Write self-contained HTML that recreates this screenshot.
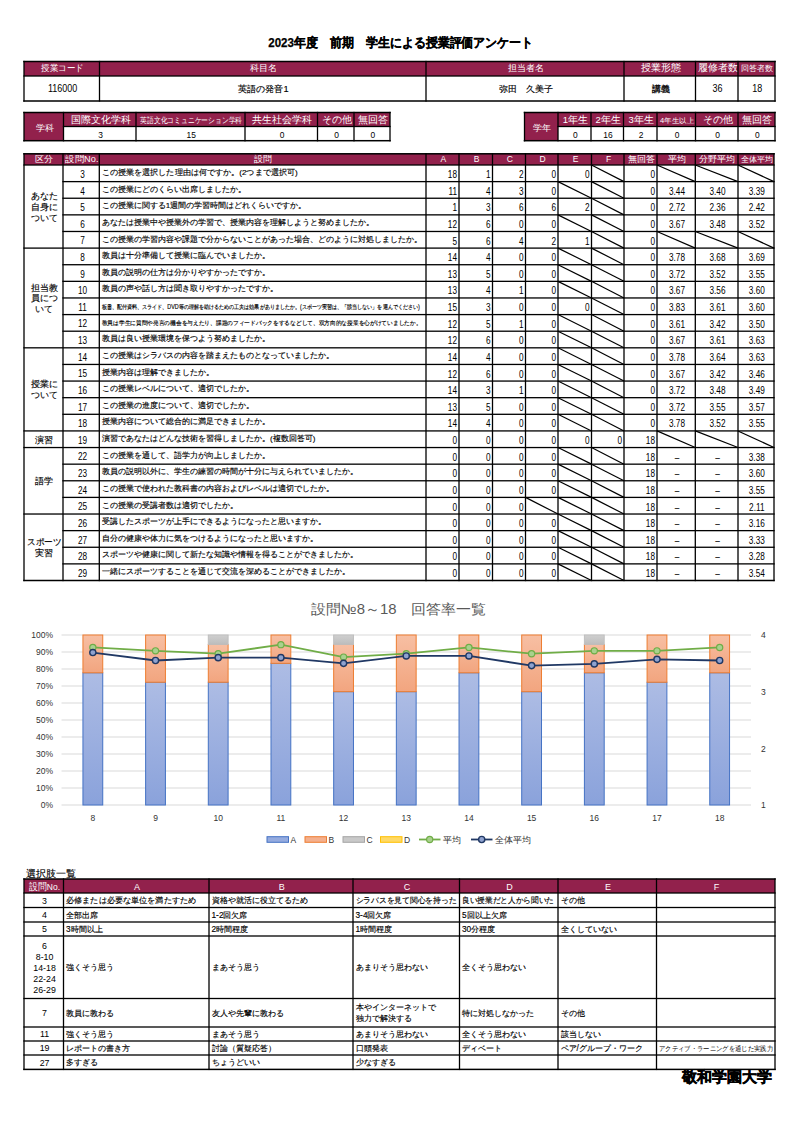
<!DOCTYPE html>
<html><head><meta charset="utf-8"><title>授業評価アンケート</title>
<style>
html,body{margin:0;padding:0;background:#fff;}
svg{display:block;font-family:"Liberation Sans",sans-serif;}
</style></head><body>
<svg width="800" height="1131" viewBox="0 0 800 1131">
<rect x="0" y="0" width="800" height="1131" fill="#fff"/>
<text x="400.80" y="47.30" font-size="12.5" text-anchor="middle" fill="#000" font-weight="bold" textLength="265.0" lengthAdjust="spacingAndGlyphs" stroke="#000" stroke-width="0.25">2023年度　前期　学生による授業評価アンケート</text>
<rect x="24.00" y="61.50" width="751.00" height="14.50" fill="#92214C" />
<text x="62.55" y="70.80" font-size="9.3" text-anchor="middle" fill="#fff" font-weight="normal" textLength="42.5" lengthAdjust="spacingAndGlyphs" >授業コード</text>
<text x="263.55" y="70.80" font-size="9.3" text-anchor="middle" fill="#fff" font-weight="normal" >科目名</text>
<text x="525.80" y="70.80" font-size="9.3" text-anchor="middle" fill="#fff" font-weight="normal" >担当者名</text>
<text x="660.55" y="70.80" font-size="9.5" text-anchor="middle" fill="#fff" font-weight="normal" >授業形態</text>
<text x="717.55" y="70.80" font-size="9.7" text-anchor="middle" fill="#fff" font-weight="normal" >履修者数</text>
<text x="757.30" y="70.80" font-size="8.1" text-anchor="middle" fill="#fff" font-weight="normal" >回答者数</text>
<text transform="translate(62.55,92.20) scale(0.88,1)" font-size="10.2" text-anchor="middle" fill="#000">116000</text>
<text x="263.55" y="92.00" font-size="9.2" text-anchor="middle" fill="#000" font-weight="normal" stroke="#000" stroke-width="0.15">英語の発音1</text>
<text x="525.80" y="92.00" font-size="9.2" text-anchor="middle" fill="#000" font-weight="normal" stroke="#000" stroke-width="0.15">弥田　久美子</text>
<text x="660.55" y="92.00" font-size="9.2" text-anchor="middle" fill="#000" font-weight="normal" stroke="#000" stroke-width="0.3">講義</text>
<text transform="translate(717.55,92.20) scale(0.88,1)" font-size="10.2" text-anchor="middle" fill="#000">36</text>
<text transform="translate(757.30,92.20) scale(0.88,1)" font-size="10.2" text-anchor="middle" fill="#000">18</text>
<rect x="23.25" y="60.75" width="752.50" height="1.5" fill="#000"/>
<rect x="23.35" y="75.35" width="752.30" height="1.3" fill="#000"/>
<rect x="23.25" y="100.25" width="752.50" height="1.5" fill="#000"/>
<rect x="23.35" y="60.85" width="1.3" height="40.80" fill="#000"/>
<rect x="98.85" y="60.85" width="1.3" height="40.80" fill="#000"/>
<rect x="425.35" y="60.85" width="1.3" height="40.80" fill="#000"/>
<rect x="623.35" y="60.85" width="1.3" height="40.80" fill="#000"/>
<rect x="694.85" y="60.85" width="1.3" height="40.80" fill="#000"/>
<rect x="737.35" y="60.85" width="1.3" height="40.80" fill="#000"/>
<rect x="774.35" y="60.85" width="1.3" height="40.80" fill="#000"/>
<rect x="24.00" y="112.50" width="366.00" height="14.00" fill="#92214C" />
<rect x="24.00" y="112.50" width="39.50" height="28.20" fill="#92214C" />
<text x="44.55" y="130.50" font-size="9" text-anchor="middle" fill="#fff" font-weight="normal" >学科</text>
<text x="100.55" y="122.50" font-size="9.5" text-anchor="middle" fill="#fff" font-weight="normal" >国際文化学科</text>
<text x="191.30" y="123.10" font-size="8" text-anchor="middle" fill="#fff" font-weight="normal" textLength="102.0" lengthAdjust="spacingAndGlyphs" >英語文化コミュニケーション学科</text>
<text x="282.05" y="122.50" font-size="9.5" text-anchor="middle" fill="#fff" font-weight="normal" >共生社会学科</text>
<text x="336.55" y="122.50" font-size="9.5" text-anchor="middle" fill="#fff" font-weight="normal" >その他</text>
<text x="372.80" y="122.50" font-size="9.5" text-anchor="middle" fill="#fff" font-weight="normal" >無回答</text>
<text transform="translate(100.55,138.00) scale(0.86,1)" font-size="9.8" text-anchor="middle" fill="#000">3</text>
<text transform="translate(191.30,138.00) scale(0.86,1)" font-size="9.8" text-anchor="middle" fill="#000">15</text>
<text transform="translate(282.05,138.00) scale(0.86,1)" font-size="9.8" text-anchor="middle" fill="#000">0</text>
<text transform="translate(336.55,138.00) scale(0.86,1)" font-size="9.8" text-anchor="middle" fill="#000">0</text>
<text transform="translate(372.80,138.00) scale(0.86,1)" font-size="9.8" text-anchor="middle" fill="#000">0</text>
<rect x="23.25" y="111.75" width="367.50" height="1.5" fill="#000"/>
<rect x="62.85" y="125.85" width="327.80" height="1.3" fill="#000"/>
<rect x="23.25" y="139.95" width="367.50" height="1.5" fill="#000"/>
<rect x="23.35" y="111.85" width="1.3" height="29.50" fill="#000"/>
<rect x="62.85" y="111.85" width="1.3" height="29.50" fill="#000"/>
<rect x="135.35" y="111.85" width="1.3" height="29.50" fill="#000"/>
<rect x="244.35" y="111.85" width="1.3" height="29.50" fill="#000"/>
<rect x="316.85" y="111.85" width="1.3" height="29.50" fill="#000"/>
<rect x="353.35" y="111.85" width="1.3" height="29.50" fill="#000"/>
<rect x="389.35" y="111.85" width="1.3" height="29.50" fill="#000"/>
<rect x="524.50" y="112.50" width="250.50" height="14.00" fill="#92214C" />
<rect x="524.50" y="112.50" width="33.50" height="28.20" fill="#92214C" />
<text x="542.05" y="130.50" font-size="9" text-anchor="middle" fill="#fff" font-weight="normal" >学年</text>
<text x="575.30" y="122.50" font-size="9.5" text-anchor="middle" fill="#fff" font-weight="normal" >1年生</text>
<text x="608.05" y="122.50" font-size="9.5" text-anchor="middle" fill="#fff" font-weight="normal" >2年生</text>
<text x="641.05" y="122.50" font-size="9.5" text-anchor="middle" fill="#fff" font-weight="normal" >3年生</text>
<text x="677.05" y="122.50" font-size="7" text-anchor="middle" fill="#fff" font-weight="normal" textLength="34.0" lengthAdjust="spacingAndGlyphs" >4年生以上</text>
<text x="717.55" y="122.50" font-size="9.5" text-anchor="middle" fill="#fff" font-weight="normal" >その他</text>
<text x="757.30" y="122.50" font-size="9.5" text-anchor="middle" fill="#fff" font-weight="normal" >無回答</text>
<text transform="translate(575.30,138.00) scale(0.86,1)" font-size="9.8" text-anchor="middle" fill="#000">0</text>
<text transform="translate(608.05,138.00) scale(0.86,1)" font-size="9.8" text-anchor="middle" fill="#000">16</text>
<text transform="translate(641.05,138.00) scale(0.86,1)" font-size="9.8" text-anchor="middle" fill="#000">2</text>
<text transform="translate(677.05,138.00) scale(0.86,1)" font-size="9.8" text-anchor="middle" fill="#000">0</text>
<text transform="translate(717.55,138.00) scale(0.86,1)" font-size="9.8" text-anchor="middle" fill="#000">0</text>
<text transform="translate(757.30,138.00) scale(0.86,1)" font-size="9.8" text-anchor="middle" fill="#000">0</text>
<rect x="523.75" y="111.75" width="252.00" height="1.5" fill="#000"/>
<rect x="557.35" y="125.85" width="218.30" height="1.3" fill="#000"/>
<rect x="523.75" y="139.95" width="252.00" height="1.5" fill="#000"/>
<rect x="523.85" y="111.85" width="1.3" height="29.50" fill="#000"/>
<rect x="557.35" y="111.85" width="1.3" height="29.50" fill="#000"/>
<rect x="590.35" y="111.85" width="1.3" height="29.50" fill="#000"/>
<rect x="622.85" y="111.85" width="1.3" height="29.50" fill="#000"/>
<rect x="656.35" y="111.85" width="1.3" height="29.50" fill="#000"/>
<rect x="694.85" y="111.85" width="1.3" height="29.50" fill="#000"/>
<rect x="737.35" y="111.85" width="1.3" height="29.50" fill="#000"/>
<rect x="774.35" y="111.85" width="1.3" height="29.50" fill="#000"/>
<rect x="24.00" y="153.80" width="750.00" height="11.20" fill="#92214C" />
<text x="44.30" y="162.40" font-size="8.9" text-anchor="middle" fill="#fff" font-weight="normal" >区分</text>
<text x="81.95" y="162.40" font-size="8.9" text-anchor="middle" fill="#fff" font-weight="normal" textLength="33.0" lengthAdjust="spacingAndGlyphs" >設問No.</text>
<text x="263.45" y="162.40" font-size="8.9" text-anchor="middle" fill="#fff" font-weight="normal" >設問</text>
<text x="443.30" y="162.40" font-size="8.5" text-anchor="middle" fill="#fff" font-weight="normal" >A</text>
<text x="476.55" y="162.40" font-size="8.5" text-anchor="middle" fill="#fff" font-weight="normal" >B</text>
<text x="509.80" y="162.40" font-size="8.5" text-anchor="middle" fill="#fff" font-weight="normal" >C</text>
<text x="542.55" y="162.40" font-size="8.5" text-anchor="middle" fill="#fff" font-weight="normal" >D</text>
<text x="575.55" y="162.40" font-size="8.5" text-anchor="middle" fill="#fff" font-weight="normal" >E</text>
<text x="608.55" y="162.40" font-size="8.5" text-anchor="middle" fill="#fff" font-weight="normal" >F</text>
<text x="641.30" y="162.40" font-size="8.9" text-anchor="middle" fill="#fff" font-weight="normal" >無回答</text>
<text x="676.95" y="162.40" font-size="8.9" text-anchor="middle" fill="#fff" font-weight="normal" >平均</text>
<text x="717.45" y="162.40" font-size="8.9" text-anchor="middle" fill="#fff" font-weight="normal" >分野平均</text>
<text x="756.80" y="162.40" font-size="7.5" text-anchor="middle" fill="#fff" font-weight="normal" >全体平均</text>
<text transform="translate(82.55,177.91) scale(0.8,1)" font-size="10.3" text-anchor="middle" fill="#000">3</text>
<text x="101.70" y="175.11" font-size="8" text-anchor="start" fill="#000" font-weight="normal" textLength="196.0" lengthAdjust="spacingAndGlyphs" stroke="#000" stroke-width="0.15">この授業を選択した理由は何ですか。(2つまで選択可)</text>
<text transform="translate(457.00,178.11) scale(0.8,1)" font-size="10.3" text-anchor="end" fill="#000">18</text>
<text transform="translate(490.50,178.11) scale(0.8,1)" font-size="10.3" text-anchor="end" fill="#000">1</text>
<text transform="translate(523.50,178.11) scale(0.8,1)" font-size="10.3" text-anchor="end" fill="#000">2</text>
<text transform="translate(556.00,178.11) scale(0.8,1)" font-size="10.3" text-anchor="end" fill="#000">0</text>
<text transform="translate(589.50,178.11) scale(0.8,1)" font-size="10.3" text-anchor="end" fill="#000">0</text>
<line x1="591.50" y1="165.00" x2="624.00" y2="181.62" stroke="#000" stroke-width="1.2" />
<text transform="translate(655.00,178.11) scale(0.8,1)" font-size="10.3" text-anchor="end" fill="#000">0</text>
<line x1="657.00" y1="165.00" x2="695.30" y2="181.62" stroke="#000" stroke-width="1.2" />
<line x1="695.30" y1="165.00" x2="738.00" y2="181.62" stroke="#000" stroke-width="1.2" />
<line x1="738.00" y1="165.00" x2="774.00" y2="181.62" stroke="#000" stroke-width="1.2" />
<text transform="translate(82.55,194.53) scale(0.8,1)" font-size="10.3" text-anchor="middle" fill="#000">4</text>
<text x="101.70" y="191.73" font-size="8" text-anchor="start" fill="#000" font-weight="normal" stroke="#000" stroke-width="0.15">この授業にどのくらい出席しましたか。</text>
<text transform="translate(457.00,194.73) scale(0.8,1)" font-size="10.3" text-anchor="end" fill="#000">11</text>
<text transform="translate(490.50,194.73) scale(0.8,1)" font-size="10.3" text-anchor="end" fill="#000">4</text>
<text transform="translate(523.50,194.73) scale(0.8,1)" font-size="10.3" text-anchor="end" fill="#000">3</text>
<text transform="translate(556.00,194.73) scale(0.8,1)" font-size="10.3" text-anchor="end" fill="#000">0</text>
<line x1="558.00" y1="181.62" x2="591.50" y2="198.24" stroke="#000" stroke-width="1.2" />
<line x1="591.50" y1="181.62" x2="624.00" y2="198.24" stroke="#000" stroke-width="1.2" />
<text transform="translate(655.00,194.73) scale(0.8,1)" font-size="10.3" text-anchor="end" fill="#000">0</text>
<text transform="translate(676.95,194.73) scale(0.8,1)" font-size="10.3" text-anchor="middle" fill="#000">3.44</text>
<text transform="translate(717.45,194.73) scale(0.8,1)" font-size="10.3" text-anchor="middle" fill="#000">3.40</text>
<text transform="translate(756.80,194.73) scale(0.8,1)" font-size="10.3" text-anchor="middle" fill="#000">3.39</text>
<text transform="translate(82.55,211.15) scale(0.8,1)" font-size="10.3" text-anchor="middle" fill="#000">5</text>
<text x="101.70" y="208.35" font-size="8" text-anchor="start" fill="#000" font-weight="normal" stroke="#000" stroke-width="0.15">この授業に関する1週間の学習時間はどれくらいですか。</text>
<text transform="translate(457.00,211.35) scale(0.8,1)" font-size="10.3" text-anchor="end" fill="#000">1</text>
<text transform="translate(490.50,211.35) scale(0.8,1)" font-size="10.3" text-anchor="end" fill="#000">3</text>
<text transform="translate(523.50,211.35) scale(0.8,1)" font-size="10.3" text-anchor="end" fill="#000">6</text>
<text transform="translate(556.00,211.35) scale(0.8,1)" font-size="10.3" text-anchor="end" fill="#000">6</text>
<text transform="translate(589.50,211.35) scale(0.8,1)" font-size="10.3" text-anchor="end" fill="#000">2</text>
<line x1="591.50" y1="198.24" x2="624.00" y2="214.86" stroke="#000" stroke-width="1.2" />
<text transform="translate(655.00,211.35) scale(0.8,1)" font-size="10.3" text-anchor="end" fill="#000">0</text>
<text transform="translate(676.95,211.35) scale(0.8,1)" font-size="10.3" text-anchor="middle" fill="#000">2.72</text>
<text transform="translate(717.45,211.35) scale(0.8,1)" font-size="10.3" text-anchor="middle" fill="#000">2.36</text>
<text transform="translate(756.80,211.35) scale(0.8,1)" font-size="10.3" text-anchor="middle" fill="#000">2.42</text>
<text transform="translate(82.55,227.77) scale(0.8,1)" font-size="10.3" text-anchor="middle" fill="#000">6</text>
<text x="101.70" y="224.97" font-size="8" text-anchor="start" fill="#000" font-weight="normal" stroke="#000" stroke-width="0.15">あなたは授業中や授業外の学習で、授業内容を理解しようと努めましたか。</text>
<text transform="translate(457.00,227.97) scale(0.8,1)" font-size="10.3" text-anchor="end" fill="#000">12</text>
<text transform="translate(490.50,227.97) scale(0.8,1)" font-size="10.3" text-anchor="end" fill="#000">6</text>
<text transform="translate(523.50,227.97) scale(0.8,1)" font-size="10.3" text-anchor="end" fill="#000">0</text>
<text transform="translate(556.00,227.97) scale(0.8,1)" font-size="10.3" text-anchor="end" fill="#000">0</text>
<line x1="558.00" y1="214.86" x2="591.50" y2="231.48" stroke="#000" stroke-width="1.2" />
<line x1="591.50" y1="214.86" x2="624.00" y2="231.48" stroke="#000" stroke-width="1.2" />
<text transform="translate(655.00,227.97) scale(0.8,1)" font-size="10.3" text-anchor="end" fill="#000">0</text>
<text transform="translate(676.95,227.97) scale(0.8,1)" font-size="10.3" text-anchor="middle" fill="#000">3.67</text>
<text transform="translate(717.45,227.97) scale(0.8,1)" font-size="10.3" text-anchor="middle" fill="#000">3.48</text>
<text transform="translate(756.80,227.97) scale(0.8,1)" font-size="10.3" text-anchor="middle" fill="#000">3.52</text>
<text transform="translate(82.55,244.39) scale(0.8,1)" font-size="10.3" text-anchor="middle" fill="#000">7</text>
<text x="101.70" y="241.59" font-size="8" text-anchor="start" fill="#000" font-weight="normal" stroke="#000" stroke-width="0.15">この授業の学習内容や課題で分からないことがあった場合、どのように対処しましたか。</text>
<text transform="translate(457.00,244.59) scale(0.8,1)" font-size="10.3" text-anchor="end" fill="#000">5</text>
<text transform="translate(490.50,244.59) scale(0.8,1)" font-size="10.3" text-anchor="end" fill="#000">6</text>
<text transform="translate(523.50,244.59) scale(0.8,1)" font-size="10.3" text-anchor="end" fill="#000">4</text>
<text transform="translate(556.00,244.59) scale(0.8,1)" font-size="10.3" text-anchor="end" fill="#000">2</text>
<text transform="translate(589.50,244.59) scale(0.8,1)" font-size="10.3" text-anchor="end" fill="#000">1</text>
<line x1="591.50" y1="231.48" x2="624.00" y2="248.10" stroke="#000" stroke-width="1.2" />
<text transform="translate(655.00,244.59) scale(0.8,1)" font-size="10.3" text-anchor="end" fill="#000">0</text>
<line x1="657.00" y1="231.48" x2="695.30" y2="248.10" stroke="#000" stroke-width="1.2" />
<line x1="695.30" y1="231.48" x2="738.00" y2="248.10" stroke="#000" stroke-width="1.2" />
<line x1="738.00" y1="231.48" x2="774.00" y2="248.10" stroke="#000" stroke-width="1.2" />
<text transform="translate(82.55,261.01) scale(0.8,1)" font-size="10.3" text-anchor="middle" fill="#000">8</text>
<text x="101.70" y="258.21" font-size="8" text-anchor="start" fill="#000" font-weight="normal" stroke="#000" stroke-width="0.15">教員は十分準備して授業に臨んでいましたか。</text>
<text transform="translate(457.00,261.21) scale(0.8,1)" font-size="10.3" text-anchor="end" fill="#000">14</text>
<text transform="translate(490.50,261.21) scale(0.8,1)" font-size="10.3" text-anchor="end" fill="#000">4</text>
<text transform="translate(523.50,261.21) scale(0.8,1)" font-size="10.3" text-anchor="end" fill="#000">0</text>
<text transform="translate(556.00,261.21) scale(0.8,1)" font-size="10.3" text-anchor="end" fill="#000">0</text>
<line x1="558.00" y1="248.10" x2="591.50" y2="264.72" stroke="#000" stroke-width="1.2" />
<line x1="591.50" y1="248.10" x2="624.00" y2="264.72" stroke="#000" stroke-width="1.2" />
<text transform="translate(655.00,261.21) scale(0.8,1)" font-size="10.3" text-anchor="end" fill="#000">0</text>
<text transform="translate(676.95,261.21) scale(0.8,1)" font-size="10.3" text-anchor="middle" fill="#000">3.78</text>
<text transform="translate(717.45,261.21) scale(0.8,1)" font-size="10.3" text-anchor="middle" fill="#000">3.68</text>
<text transform="translate(756.80,261.21) scale(0.8,1)" font-size="10.3" text-anchor="middle" fill="#000">3.69</text>
<text transform="translate(82.55,277.63) scale(0.8,1)" font-size="10.3" text-anchor="middle" fill="#000">9</text>
<text x="101.70" y="274.83" font-size="8" text-anchor="start" fill="#000" font-weight="normal" stroke="#000" stroke-width="0.15">教員の説明の仕方は分かりやすかったですか。</text>
<text transform="translate(457.00,277.83) scale(0.8,1)" font-size="10.3" text-anchor="end" fill="#000">13</text>
<text transform="translate(490.50,277.83) scale(0.8,1)" font-size="10.3" text-anchor="end" fill="#000">5</text>
<text transform="translate(523.50,277.83) scale(0.8,1)" font-size="10.3" text-anchor="end" fill="#000">0</text>
<text transform="translate(556.00,277.83) scale(0.8,1)" font-size="10.3" text-anchor="end" fill="#000">0</text>
<line x1="558.00" y1="264.72" x2="591.50" y2="281.34" stroke="#000" stroke-width="1.2" />
<line x1="591.50" y1="264.72" x2="624.00" y2="281.34" stroke="#000" stroke-width="1.2" />
<text transform="translate(655.00,277.83) scale(0.8,1)" font-size="10.3" text-anchor="end" fill="#000">0</text>
<text transform="translate(676.95,277.83) scale(0.8,1)" font-size="10.3" text-anchor="middle" fill="#000">3.72</text>
<text transform="translate(717.45,277.83) scale(0.8,1)" font-size="10.3" text-anchor="middle" fill="#000">3.52</text>
<text transform="translate(756.80,277.83) scale(0.8,1)" font-size="10.3" text-anchor="middle" fill="#000">3.55</text>
<text transform="translate(82.55,294.25) scale(0.8,1)" font-size="10.3" text-anchor="middle" fill="#000">10</text>
<text x="101.70" y="291.45" font-size="8" text-anchor="start" fill="#000" font-weight="normal" stroke="#000" stroke-width="0.15">教員の声や話し方は聞き取りやすかったですか。</text>
<text transform="translate(457.00,294.45) scale(0.8,1)" font-size="10.3" text-anchor="end" fill="#000">13</text>
<text transform="translate(490.50,294.45) scale(0.8,1)" font-size="10.3" text-anchor="end" fill="#000">4</text>
<text transform="translate(523.50,294.45) scale(0.8,1)" font-size="10.3" text-anchor="end" fill="#000">1</text>
<text transform="translate(556.00,294.45) scale(0.8,1)" font-size="10.3" text-anchor="end" fill="#000">0</text>
<line x1="558.00" y1="281.34" x2="591.50" y2="297.96" stroke="#000" stroke-width="1.2" />
<line x1="591.50" y1="281.34" x2="624.00" y2="297.96" stroke="#000" stroke-width="1.2" />
<text transform="translate(655.00,294.45) scale(0.8,1)" font-size="10.3" text-anchor="end" fill="#000">0</text>
<text transform="translate(676.95,294.45) scale(0.8,1)" font-size="10.3" text-anchor="middle" fill="#000">3.67</text>
<text transform="translate(717.45,294.45) scale(0.8,1)" font-size="10.3" text-anchor="middle" fill="#000">3.56</text>
<text transform="translate(756.80,294.45) scale(0.8,1)" font-size="10.3" text-anchor="middle" fill="#000">3.60</text>
<text transform="translate(82.55,310.87) scale(0.8,1)" font-size="10.3" text-anchor="middle" fill="#000">11</text>
<text x="101.70" y="308.67" font-size="6.4" text-anchor="start" fill="#000" font-weight="normal" textLength="318.0" lengthAdjust="spacingAndGlyphs" stroke="#000" stroke-width="0.15">板書、配付資料、スライド、DVD等の理解を助けるための工夫は効果がありましたか。(スポーツ実習は、「該当しない」を選んでください)</text>
<text transform="translate(457.00,311.07) scale(0.8,1)" font-size="10.3" text-anchor="end" fill="#000">15</text>
<text transform="translate(490.50,311.07) scale(0.8,1)" font-size="10.3" text-anchor="end" fill="#000">3</text>
<text transform="translate(523.50,311.07) scale(0.8,1)" font-size="10.3" text-anchor="end" fill="#000">0</text>
<text transform="translate(556.00,311.07) scale(0.8,1)" font-size="10.3" text-anchor="end" fill="#000">0</text>
<text transform="translate(589.50,311.07) scale(0.8,1)" font-size="10.3" text-anchor="end" fill="#000">0</text>
<line x1="591.50" y1="297.96" x2="624.00" y2="314.58" stroke="#000" stroke-width="1.2" />
<text transform="translate(655.00,311.07) scale(0.8,1)" font-size="10.3" text-anchor="end" fill="#000">0</text>
<text transform="translate(676.95,311.07) scale(0.8,1)" font-size="10.3" text-anchor="middle" fill="#000">3.83</text>
<text transform="translate(717.45,311.07) scale(0.8,1)" font-size="10.3" text-anchor="middle" fill="#000">3.61</text>
<text transform="translate(756.80,311.07) scale(0.8,1)" font-size="10.3" text-anchor="middle" fill="#000">3.60</text>
<text transform="translate(82.55,327.49) scale(0.8,1)" font-size="10.3" text-anchor="middle" fill="#000">12</text>
<text x="101.70" y="325.29" font-size="6.4" text-anchor="start" fill="#000" font-weight="normal" textLength="319.7" lengthAdjust="spacingAndGlyphs" stroke="#000" stroke-width="0.15">教員は学生に質問や発言の機会を与えたり、課題のフィードバックをするなどして、双方向的な授業を心がけていましたか。</text>
<text transform="translate(457.00,327.69) scale(0.8,1)" font-size="10.3" text-anchor="end" fill="#000">12</text>
<text transform="translate(490.50,327.69) scale(0.8,1)" font-size="10.3" text-anchor="end" fill="#000">5</text>
<text transform="translate(523.50,327.69) scale(0.8,1)" font-size="10.3" text-anchor="end" fill="#000">1</text>
<text transform="translate(556.00,327.69) scale(0.8,1)" font-size="10.3" text-anchor="end" fill="#000">0</text>
<line x1="558.00" y1="314.58" x2="591.50" y2="331.20" stroke="#000" stroke-width="1.2" />
<line x1="591.50" y1="314.58" x2="624.00" y2="331.20" stroke="#000" stroke-width="1.2" />
<text transform="translate(655.00,327.69) scale(0.8,1)" font-size="10.3" text-anchor="end" fill="#000">0</text>
<text transform="translate(676.95,327.69) scale(0.8,1)" font-size="10.3" text-anchor="middle" fill="#000">3.61</text>
<text transform="translate(717.45,327.69) scale(0.8,1)" font-size="10.3" text-anchor="middle" fill="#000">3.42</text>
<text transform="translate(756.80,327.69) scale(0.8,1)" font-size="10.3" text-anchor="middle" fill="#000">3.50</text>
<text transform="translate(82.55,344.11) scale(0.8,1)" font-size="10.3" text-anchor="middle" fill="#000">13</text>
<text x="101.70" y="341.31" font-size="8" text-anchor="start" fill="#000" font-weight="normal" stroke="#000" stroke-width="0.15">教員は良い授業環境を保つよう努めましたか。</text>
<text transform="translate(457.00,344.31) scale(0.8,1)" font-size="10.3" text-anchor="end" fill="#000">12</text>
<text transform="translate(490.50,344.31) scale(0.8,1)" font-size="10.3" text-anchor="end" fill="#000">6</text>
<text transform="translate(523.50,344.31) scale(0.8,1)" font-size="10.3" text-anchor="end" fill="#000">0</text>
<text transform="translate(556.00,344.31) scale(0.8,1)" font-size="10.3" text-anchor="end" fill="#000">0</text>
<line x1="558.00" y1="331.20" x2="591.50" y2="347.82" stroke="#000" stroke-width="1.2" />
<line x1="591.50" y1="331.20" x2="624.00" y2="347.82" stroke="#000" stroke-width="1.2" />
<text transform="translate(655.00,344.31) scale(0.8,1)" font-size="10.3" text-anchor="end" fill="#000">0</text>
<text transform="translate(676.95,344.31) scale(0.8,1)" font-size="10.3" text-anchor="middle" fill="#000">3.67</text>
<text transform="translate(717.45,344.31) scale(0.8,1)" font-size="10.3" text-anchor="middle" fill="#000">3.61</text>
<text transform="translate(756.80,344.31) scale(0.8,1)" font-size="10.3" text-anchor="middle" fill="#000">3.63</text>
<text transform="translate(82.55,360.73) scale(0.8,1)" font-size="10.3" text-anchor="middle" fill="#000">14</text>
<text x="101.70" y="357.93" font-size="8" text-anchor="start" fill="#000" font-weight="normal" stroke="#000" stroke-width="0.15">この授業はシラバスの内容を踏まえたものとなっていましたか。</text>
<text transform="translate(457.00,360.93) scale(0.8,1)" font-size="10.3" text-anchor="end" fill="#000">14</text>
<text transform="translate(490.50,360.93) scale(0.8,1)" font-size="10.3" text-anchor="end" fill="#000">4</text>
<text transform="translate(523.50,360.93) scale(0.8,1)" font-size="10.3" text-anchor="end" fill="#000">0</text>
<text transform="translate(556.00,360.93) scale(0.8,1)" font-size="10.3" text-anchor="end" fill="#000">0</text>
<line x1="558.00" y1="347.82" x2="591.50" y2="364.44" stroke="#000" stroke-width="1.2" />
<line x1="591.50" y1="347.82" x2="624.00" y2="364.44" stroke="#000" stroke-width="1.2" />
<text transform="translate(655.00,360.93) scale(0.8,1)" font-size="10.3" text-anchor="end" fill="#000">0</text>
<text transform="translate(676.95,360.93) scale(0.8,1)" font-size="10.3" text-anchor="middle" fill="#000">3.78</text>
<text transform="translate(717.45,360.93) scale(0.8,1)" font-size="10.3" text-anchor="middle" fill="#000">3.64</text>
<text transform="translate(756.80,360.93) scale(0.8,1)" font-size="10.3" text-anchor="middle" fill="#000">3.63</text>
<text transform="translate(82.55,377.35) scale(0.8,1)" font-size="10.3" text-anchor="middle" fill="#000">15</text>
<text x="101.70" y="374.55" font-size="8" text-anchor="start" fill="#000" font-weight="normal" stroke="#000" stroke-width="0.15">授業内容は理解できましたか。</text>
<text transform="translate(457.00,377.55) scale(0.8,1)" font-size="10.3" text-anchor="end" fill="#000">12</text>
<text transform="translate(490.50,377.55) scale(0.8,1)" font-size="10.3" text-anchor="end" fill="#000">6</text>
<text transform="translate(523.50,377.55) scale(0.8,1)" font-size="10.3" text-anchor="end" fill="#000">0</text>
<text transform="translate(556.00,377.55) scale(0.8,1)" font-size="10.3" text-anchor="end" fill="#000">0</text>
<line x1="558.00" y1="364.44" x2="591.50" y2="381.06" stroke="#000" stroke-width="1.2" />
<line x1="591.50" y1="364.44" x2="624.00" y2="381.06" stroke="#000" stroke-width="1.2" />
<text transform="translate(655.00,377.55) scale(0.8,1)" font-size="10.3" text-anchor="end" fill="#000">0</text>
<text transform="translate(676.95,377.55) scale(0.8,1)" font-size="10.3" text-anchor="middle" fill="#000">3.67</text>
<text transform="translate(717.45,377.55) scale(0.8,1)" font-size="10.3" text-anchor="middle" fill="#000">3.42</text>
<text transform="translate(756.80,377.55) scale(0.8,1)" font-size="10.3" text-anchor="middle" fill="#000">3.46</text>
<text transform="translate(82.55,393.97) scale(0.8,1)" font-size="10.3" text-anchor="middle" fill="#000">16</text>
<text x="101.70" y="391.17" font-size="8" text-anchor="start" fill="#000" font-weight="normal" stroke="#000" stroke-width="0.15">この授業レベルについて、適切でしたか。</text>
<text transform="translate(457.00,394.17) scale(0.8,1)" font-size="10.3" text-anchor="end" fill="#000">14</text>
<text transform="translate(490.50,394.17) scale(0.8,1)" font-size="10.3" text-anchor="end" fill="#000">3</text>
<text transform="translate(523.50,394.17) scale(0.8,1)" font-size="10.3" text-anchor="end" fill="#000">1</text>
<text transform="translate(556.00,394.17) scale(0.8,1)" font-size="10.3" text-anchor="end" fill="#000">0</text>
<line x1="558.00" y1="381.06" x2="591.50" y2="397.68" stroke="#000" stroke-width="1.2" />
<line x1="591.50" y1="381.06" x2="624.00" y2="397.68" stroke="#000" stroke-width="1.2" />
<text transform="translate(655.00,394.17) scale(0.8,1)" font-size="10.3" text-anchor="end" fill="#000">0</text>
<text transform="translate(676.95,394.17) scale(0.8,1)" font-size="10.3" text-anchor="middle" fill="#000">3.72</text>
<text transform="translate(717.45,394.17) scale(0.8,1)" font-size="10.3" text-anchor="middle" fill="#000">3.48</text>
<text transform="translate(756.80,394.17) scale(0.8,1)" font-size="10.3" text-anchor="middle" fill="#000">3.49</text>
<text transform="translate(82.55,410.59) scale(0.8,1)" font-size="10.3" text-anchor="middle" fill="#000">17</text>
<text x="101.70" y="407.79" font-size="8" text-anchor="start" fill="#000" font-weight="normal" stroke="#000" stroke-width="0.15">この授業の進度について、適切でしたか。</text>
<text transform="translate(457.00,410.79) scale(0.8,1)" font-size="10.3" text-anchor="end" fill="#000">13</text>
<text transform="translate(490.50,410.79) scale(0.8,1)" font-size="10.3" text-anchor="end" fill="#000">5</text>
<text transform="translate(523.50,410.79) scale(0.8,1)" font-size="10.3" text-anchor="end" fill="#000">0</text>
<text transform="translate(556.00,410.79) scale(0.8,1)" font-size="10.3" text-anchor="end" fill="#000">0</text>
<line x1="558.00" y1="397.68" x2="591.50" y2="414.30" stroke="#000" stroke-width="1.2" />
<line x1="591.50" y1="397.68" x2="624.00" y2="414.30" stroke="#000" stroke-width="1.2" />
<text transform="translate(655.00,410.79) scale(0.8,1)" font-size="10.3" text-anchor="end" fill="#000">0</text>
<text transform="translate(676.95,410.79) scale(0.8,1)" font-size="10.3" text-anchor="middle" fill="#000">3.72</text>
<text transform="translate(717.45,410.79) scale(0.8,1)" font-size="10.3" text-anchor="middle" fill="#000">3.55</text>
<text transform="translate(756.80,410.79) scale(0.8,1)" font-size="10.3" text-anchor="middle" fill="#000">3.57</text>
<text transform="translate(82.55,427.21) scale(0.8,1)" font-size="10.3" text-anchor="middle" fill="#000">18</text>
<text x="101.70" y="424.41" font-size="8" text-anchor="start" fill="#000" font-weight="normal" stroke="#000" stroke-width="0.15">授業内容について総合的に満足できましたか。</text>
<text transform="translate(457.00,427.41) scale(0.8,1)" font-size="10.3" text-anchor="end" fill="#000">14</text>
<text transform="translate(490.50,427.41) scale(0.8,1)" font-size="10.3" text-anchor="end" fill="#000">4</text>
<text transform="translate(523.50,427.41) scale(0.8,1)" font-size="10.3" text-anchor="end" fill="#000">0</text>
<text transform="translate(556.00,427.41) scale(0.8,1)" font-size="10.3" text-anchor="end" fill="#000">0</text>
<line x1="558.00" y1="414.30" x2="591.50" y2="430.92" stroke="#000" stroke-width="1.2" />
<line x1="591.50" y1="414.30" x2="624.00" y2="430.92" stroke="#000" stroke-width="1.2" />
<text transform="translate(655.00,427.41) scale(0.8,1)" font-size="10.3" text-anchor="end" fill="#000">0</text>
<text transform="translate(676.95,427.41) scale(0.8,1)" font-size="10.3" text-anchor="middle" fill="#000">3.78</text>
<text transform="translate(717.45,427.41) scale(0.8,1)" font-size="10.3" text-anchor="middle" fill="#000">3.52</text>
<text transform="translate(756.80,427.41) scale(0.8,1)" font-size="10.3" text-anchor="middle" fill="#000">3.55</text>
<text transform="translate(82.55,443.83) scale(0.8,1)" font-size="10.3" text-anchor="middle" fill="#000">19</text>
<text x="101.70" y="441.03" font-size="8" text-anchor="start" fill="#000" font-weight="normal" textLength="213.7" lengthAdjust="spacingAndGlyphs" stroke="#000" stroke-width="0.15">演習であなたはどんな技術を習得しましたか。(複数回答可)</text>
<text transform="translate(457.00,444.03) scale(0.8,1)" font-size="10.3" text-anchor="end" fill="#000">0</text>
<text transform="translate(490.50,444.03) scale(0.8,1)" font-size="10.3" text-anchor="end" fill="#000">0</text>
<text transform="translate(523.50,444.03) scale(0.8,1)" font-size="10.3" text-anchor="end" fill="#000">0</text>
<text transform="translate(556.00,444.03) scale(0.8,1)" font-size="10.3" text-anchor="end" fill="#000">0</text>
<text transform="translate(589.50,444.03) scale(0.8,1)" font-size="10.3" text-anchor="end" fill="#000">0</text>
<text transform="translate(622.00,444.03) scale(0.8,1)" font-size="10.3" text-anchor="end" fill="#000">0</text>
<text transform="translate(655.00,444.03) scale(0.8,1)" font-size="10.3" text-anchor="end" fill="#000">18</text>
<line x1="657.00" y1="430.92" x2="695.30" y2="447.54" stroke="#000" stroke-width="1.2" />
<line x1="695.30" y1="430.92" x2="738.00" y2="447.54" stroke="#000" stroke-width="1.2" />
<line x1="738.00" y1="430.92" x2="774.00" y2="447.54" stroke="#000" stroke-width="1.2" />
<text transform="translate(82.55,460.45) scale(0.8,1)" font-size="10.3" text-anchor="middle" fill="#000">22</text>
<text x="101.70" y="457.65" font-size="8" text-anchor="start" fill="#000" font-weight="normal" stroke="#000" stroke-width="0.15">この授業を通して、語学力が向上しましたか。</text>
<text transform="translate(457.00,460.65) scale(0.8,1)" font-size="10.3" text-anchor="end" fill="#000">0</text>
<text transform="translate(490.50,460.65) scale(0.8,1)" font-size="10.3" text-anchor="end" fill="#000">0</text>
<text transform="translate(523.50,460.65) scale(0.8,1)" font-size="10.3" text-anchor="end" fill="#000">0</text>
<text transform="translate(556.00,460.65) scale(0.8,1)" font-size="10.3" text-anchor="end" fill="#000">0</text>
<line x1="558.00" y1="447.54" x2="591.50" y2="464.16" stroke="#000" stroke-width="1.2" />
<line x1="591.50" y1="447.54" x2="624.00" y2="464.16" stroke="#000" stroke-width="1.2" />
<text transform="translate(655.00,460.65) scale(0.8,1)" font-size="10.3" text-anchor="end" fill="#000">18</text>
<text transform="translate(676.95,460.65) scale(0.8,1)" font-size="10.3" text-anchor="middle" fill="#000">–</text>
<text transform="translate(717.45,460.65) scale(0.8,1)" font-size="10.3" text-anchor="middle" fill="#000">–</text>
<text transform="translate(756.80,460.65) scale(0.8,1)" font-size="10.3" text-anchor="middle" fill="#000">3.38</text>
<text transform="translate(82.55,477.07) scale(0.8,1)" font-size="10.3" text-anchor="middle" fill="#000">23</text>
<text x="101.70" y="474.27" font-size="8" text-anchor="start" fill="#000" font-weight="normal" stroke="#000" stroke-width="0.15">教員の説明以外に、学生の練習の時間が十分に与えられていましたか。</text>
<text transform="translate(457.00,477.27) scale(0.8,1)" font-size="10.3" text-anchor="end" fill="#000">0</text>
<text transform="translate(490.50,477.27) scale(0.8,1)" font-size="10.3" text-anchor="end" fill="#000">0</text>
<text transform="translate(523.50,477.27) scale(0.8,1)" font-size="10.3" text-anchor="end" fill="#000">0</text>
<text transform="translate(556.00,477.27) scale(0.8,1)" font-size="10.3" text-anchor="end" fill="#000">0</text>
<line x1="558.00" y1="464.16" x2="591.50" y2="480.78" stroke="#000" stroke-width="1.2" />
<line x1="591.50" y1="464.16" x2="624.00" y2="480.78" stroke="#000" stroke-width="1.2" />
<text transform="translate(655.00,477.27) scale(0.8,1)" font-size="10.3" text-anchor="end" fill="#000">18</text>
<text transform="translate(676.95,477.27) scale(0.8,1)" font-size="10.3" text-anchor="middle" fill="#000">–</text>
<text transform="translate(717.45,477.27) scale(0.8,1)" font-size="10.3" text-anchor="middle" fill="#000">–</text>
<text transform="translate(756.80,477.27) scale(0.8,1)" font-size="10.3" text-anchor="middle" fill="#000">3.60</text>
<text transform="translate(82.55,493.69) scale(0.8,1)" font-size="10.3" text-anchor="middle" fill="#000">24</text>
<text x="101.70" y="490.89" font-size="8" text-anchor="start" fill="#000" font-weight="normal" stroke="#000" stroke-width="0.15">この授業で使われた教科書の内容およびレベルは適切でしたか。</text>
<text transform="translate(457.00,493.89) scale(0.8,1)" font-size="10.3" text-anchor="end" fill="#000">0</text>
<text transform="translate(490.50,493.89) scale(0.8,1)" font-size="10.3" text-anchor="end" fill="#000">0</text>
<text transform="translate(523.50,493.89) scale(0.8,1)" font-size="10.3" text-anchor="end" fill="#000">0</text>
<text transform="translate(556.00,493.89) scale(0.8,1)" font-size="10.3" text-anchor="end" fill="#000">0</text>
<line x1="558.00" y1="480.78" x2="591.50" y2="497.40" stroke="#000" stroke-width="1.2" />
<line x1="591.50" y1="480.78" x2="624.00" y2="497.40" stroke="#000" stroke-width="1.2" />
<text transform="translate(655.00,493.89) scale(0.8,1)" font-size="10.3" text-anchor="end" fill="#000">18</text>
<text transform="translate(676.95,493.89) scale(0.8,1)" font-size="10.3" text-anchor="middle" fill="#000">–</text>
<text transform="translate(717.45,493.89) scale(0.8,1)" font-size="10.3" text-anchor="middle" fill="#000">–</text>
<text transform="translate(756.80,493.89) scale(0.8,1)" font-size="10.3" text-anchor="middle" fill="#000">3.55</text>
<text transform="translate(82.55,510.31) scale(0.8,1)" font-size="10.3" text-anchor="middle" fill="#000">25</text>
<text x="101.70" y="507.51" font-size="8" text-anchor="start" fill="#000" font-weight="normal" stroke="#000" stroke-width="0.15">この授業の受講者数は適切でしたか。</text>
<text transform="translate(457.00,510.51) scale(0.8,1)" font-size="10.3" text-anchor="end" fill="#000">0</text>
<text transform="translate(490.50,510.51) scale(0.8,1)" font-size="10.3" text-anchor="end" fill="#000">0</text>
<text transform="translate(523.50,510.51) scale(0.8,1)" font-size="10.3" text-anchor="end" fill="#000">0</text>
<line x1="525.50" y1="497.40" x2="558.00" y2="514.02" stroke="#000" stroke-width="1.2" />
<line x1="558.00" y1="497.40" x2="591.50" y2="514.02" stroke="#000" stroke-width="1.2" />
<line x1="591.50" y1="497.40" x2="624.00" y2="514.02" stroke="#000" stroke-width="1.2" />
<text transform="translate(655.00,510.51) scale(0.8,1)" font-size="10.3" text-anchor="end" fill="#000">18</text>
<text transform="translate(676.95,510.51) scale(0.8,1)" font-size="10.3" text-anchor="middle" fill="#000">–</text>
<text transform="translate(717.45,510.51) scale(0.8,1)" font-size="10.3" text-anchor="middle" fill="#000">–</text>
<text transform="translate(756.80,510.51) scale(0.8,1)" font-size="10.3" text-anchor="middle" fill="#000">2.11</text>
<text transform="translate(82.55,526.93) scale(0.8,1)" font-size="10.3" text-anchor="middle" fill="#000">26</text>
<text x="101.70" y="524.13" font-size="8" text-anchor="start" fill="#000" font-weight="normal" stroke="#000" stroke-width="0.15">受講したスポーツが上手にできるようになったと思いますか。</text>
<text transform="translate(457.00,527.13) scale(0.8,1)" font-size="10.3" text-anchor="end" fill="#000">0</text>
<text transform="translate(490.50,527.13) scale(0.8,1)" font-size="10.3" text-anchor="end" fill="#000">0</text>
<text transform="translate(523.50,527.13) scale(0.8,1)" font-size="10.3" text-anchor="end" fill="#000">0</text>
<text transform="translate(556.00,527.13) scale(0.8,1)" font-size="10.3" text-anchor="end" fill="#000">0</text>
<line x1="558.00" y1="514.02" x2="591.50" y2="530.64" stroke="#000" stroke-width="1.2" />
<line x1="591.50" y1="514.02" x2="624.00" y2="530.64" stroke="#000" stroke-width="1.2" />
<text transform="translate(655.00,527.13) scale(0.8,1)" font-size="10.3" text-anchor="end" fill="#000">18</text>
<text transform="translate(676.95,527.13) scale(0.8,1)" font-size="10.3" text-anchor="middle" fill="#000">–</text>
<text transform="translate(717.45,527.13) scale(0.8,1)" font-size="10.3" text-anchor="middle" fill="#000">–</text>
<text transform="translate(756.80,527.13) scale(0.8,1)" font-size="10.3" text-anchor="middle" fill="#000">3.16</text>
<text transform="translate(82.55,543.55) scale(0.8,1)" font-size="10.3" text-anchor="middle" fill="#000">27</text>
<text x="101.70" y="540.75" font-size="8" text-anchor="start" fill="#000" font-weight="normal" stroke="#000" stroke-width="0.15">自分の健康や体力に気をつけるようになったと思いますか。</text>
<text transform="translate(457.00,543.75) scale(0.8,1)" font-size="10.3" text-anchor="end" fill="#000">0</text>
<text transform="translate(490.50,543.75) scale(0.8,1)" font-size="10.3" text-anchor="end" fill="#000">0</text>
<text transform="translate(523.50,543.75) scale(0.8,1)" font-size="10.3" text-anchor="end" fill="#000">0</text>
<text transform="translate(556.00,543.75) scale(0.8,1)" font-size="10.3" text-anchor="end" fill="#000">0</text>
<line x1="558.00" y1="530.64" x2="591.50" y2="547.26" stroke="#000" stroke-width="1.2" />
<line x1="591.50" y1="530.64" x2="624.00" y2="547.26" stroke="#000" stroke-width="1.2" />
<text transform="translate(655.00,543.75) scale(0.8,1)" font-size="10.3" text-anchor="end" fill="#000">18</text>
<text transform="translate(676.95,543.75) scale(0.8,1)" font-size="10.3" text-anchor="middle" fill="#000">–</text>
<text transform="translate(717.45,543.75) scale(0.8,1)" font-size="10.3" text-anchor="middle" fill="#000">–</text>
<text transform="translate(756.80,543.75) scale(0.8,1)" font-size="10.3" text-anchor="middle" fill="#000">3.33</text>
<text transform="translate(82.55,560.17) scale(0.8,1)" font-size="10.3" text-anchor="middle" fill="#000">28</text>
<text x="101.70" y="557.37" font-size="8" text-anchor="start" fill="#000" font-weight="normal" stroke="#000" stroke-width="0.15">スポーツや健康に関して新たな知識や情報を得ることができましたか。</text>
<text transform="translate(457.00,560.37) scale(0.8,1)" font-size="10.3" text-anchor="end" fill="#000">0</text>
<text transform="translate(490.50,560.37) scale(0.8,1)" font-size="10.3" text-anchor="end" fill="#000">0</text>
<text transform="translate(523.50,560.37) scale(0.8,1)" font-size="10.3" text-anchor="end" fill="#000">0</text>
<text transform="translate(556.00,560.37) scale(0.8,1)" font-size="10.3" text-anchor="end" fill="#000">0</text>
<line x1="558.00" y1="547.26" x2="591.50" y2="563.88" stroke="#000" stroke-width="1.2" />
<line x1="591.50" y1="547.26" x2="624.00" y2="563.88" stroke="#000" stroke-width="1.2" />
<text transform="translate(655.00,560.37) scale(0.8,1)" font-size="10.3" text-anchor="end" fill="#000">18</text>
<text transform="translate(676.95,560.37) scale(0.8,1)" font-size="10.3" text-anchor="middle" fill="#000">–</text>
<text transform="translate(717.45,560.37) scale(0.8,1)" font-size="10.3" text-anchor="middle" fill="#000">–</text>
<text transform="translate(756.80,560.37) scale(0.8,1)" font-size="10.3" text-anchor="middle" fill="#000">3.28</text>
<text transform="translate(82.55,576.79) scale(0.8,1)" font-size="10.3" text-anchor="middle" fill="#000">29</text>
<text x="101.70" y="573.99" font-size="8" text-anchor="start" fill="#000" font-weight="normal" stroke="#000" stroke-width="0.15">一緒にスポーツすることを通じて交流を深めることができましたか。</text>
<text transform="translate(457.00,576.99) scale(0.8,1)" font-size="10.3" text-anchor="end" fill="#000">0</text>
<text transform="translate(490.50,576.99) scale(0.8,1)" font-size="10.3" text-anchor="end" fill="#000">0</text>
<text transform="translate(523.50,576.99) scale(0.8,1)" font-size="10.3" text-anchor="end" fill="#000">0</text>
<text transform="translate(556.00,576.99) scale(0.8,1)" font-size="10.3" text-anchor="end" fill="#000">0</text>
<line x1="558.00" y1="563.88" x2="591.50" y2="580.50" stroke="#000" stroke-width="1.2" />
<line x1="591.50" y1="563.88" x2="624.00" y2="580.50" stroke="#000" stroke-width="1.2" />
<text transform="translate(655.00,576.99) scale(0.8,1)" font-size="10.3" text-anchor="end" fill="#000">18</text>
<text transform="translate(676.95,576.99) scale(0.8,1)" font-size="10.3" text-anchor="middle" fill="#000">–</text>
<text transform="translate(717.45,576.99) scale(0.8,1)" font-size="10.3" text-anchor="middle" fill="#000">–</text>
<text transform="translate(756.80,576.99) scale(0.8,1)" font-size="10.3" text-anchor="middle" fill="#000">3.54</text>
<rect x="62.35" y="180.97" width="712.30" height="1.3" fill="#000"/>
<rect x="62.35" y="197.59" width="712.30" height="1.3" fill="#000"/>
<rect x="62.35" y="214.21" width="712.30" height="1.3" fill="#000"/>
<rect x="62.35" y="230.83" width="712.30" height="1.3" fill="#000"/>
<rect x="23.35" y="247.45" width="751.30" height="1.3" fill="#000"/>
<rect x="62.35" y="264.07" width="712.30" height="1.3" fill="#000"/>
<rect x="62.35" y="280.69" width="712.30" height="1.3" fill="#000"/>
<rect x="62.35" y="297.31" width="712.30" height="1.3" fill="#000"/>
<rect x="62.35" y="313.93" width="712.30" height="1.3" fill="#000"/>
<rect x="62.35" y="330.55" width="712.30" height="1.3" fill="#000"/>
<rect x="23.35" y="347.17" width="751.30" height="1.3" fill="#000"/>
<rect x="62.35" y="363.79" width="712.30" height="1.3" fill="#000"/>
<rect x="62.35" y="380.41" width="712.30" height="1.3" fill="#000"/>
<rect x="62.35" y="397.03" width="712.30" height="1.3" fill="#000"/>
<rect x="62.35" y="413.65" width="712.30" height="1.3" fill="#000"/>
<rect x="23.35" y="430.27" width="751.30" height="1.3" fill="#000"/>
<rect x="23.35" y="446.89" width="751.30" height="1.3" fill="#000"/>
<rect x="62.35" y="463.51" width="712.30" height="1.3" fill="#000"/>
<rect x="62.35" y="480.13" width="712.30" height="1.3" fill="#000"/>
<rect x="62.35" y="496.75" width="712.30" height="1.3" fill="#000"/>
<rect x="23.35" y="513.37" width="751.30" height="1.3" fill="#000"/>
<rect x="62.35" y="529.99" width="712.30" height="1.3" fill="#000"/>
<rect x="62.35" y="546.61" width="712.30" height="1.3" fill="#000"/>
<rect x="62.35" y="563.23" width="712.30" height="1.3" fill="#000"/>
<text x="44.30" y="199.15" font-size="9" text-anchor="middle" fill="#000" font-weight="normal" stroke="#000" stroke-width="0.15">あなた</text>
<text x="44.30" y="209.95" font-size="9" text-anchor="middle" fill="#000" font-weight="normal" stroke="#000" stroke-width="0.15">自身に</text>
<text x="44.30" y="220.75" font-size="9" text-anchor="middle" fill="#000" font-weight="normal" stroke="#000" stroke-width="0.15">ついて</text>
<text x="44.30" y="290.56" font-size="9" text-anchor="middle" fill="#000" font-weight="normal" stroke="#000" stroke-width="0.15">担当教</text>
<text x="44.30" y="301.36" font-size="9" text-anchor="middle" fill="#000" font-weight="normal" stroke="#000" stroke-width="0.15">員につ</text>
<text x="44.30" y="312.16" font-size="9" text-anchor="middle" fill="#000" font-weight="normal" stroke="#000" stroke-width="0.15">いて</text>
<text x="44.30" y="387.37" font-size="9" text-anchor="middle" fill="#000" font-weight="normal" stroke="#000" stroke-width="0.15">授業に</text>
<text x="44.30" y="398.17" font-size="9" text-anchor="middle" fill="#000" font-weight="normal" stroke="#000" stroke-width="0.15">ついて</text>
<text x="44.30" y="442.63" font-size="9" text-anchor="middle" fill="#000" font-weight="normal" stroke="#000" stroke-width="0.15">演習</text>
<text x="44.30" y="484.18" font-size="9" text-anchor="middle" fill="#000" font-weight="normal" stroke="#000" stroke-width="0.15">語学</text>
<text x="44.30" y="545.26" font-size="9" text-anchor="middle" fill="#000" font-weight="normal" textLength="34.6" lengthAdjust="spacingAndGlyphs" stroke="#000" stroke-width="0.15">スポーツ</text>
<text x="44.30" y="556.06" font-size="9" text-anchor="middle" fill="#000" font-weight="normal" stroke="#000" stroke-width="0.15">実習</text>
<rect x="23.25" y="153.05" width="751.50" height="1.5" fill="#000"/>
<rect x="23.35" y="164.35" width="751.30" height="1.3" fill="#000"/>
<rect x="23.25" y="579.75" width="751.50" height="1.5" fill="#000"/>
<rect x="23.35" y="153.15" width="1.3" height="428.00" fill="#000"/>
<rect x="62.35" y="153.15" width="1.3" height="428.00" fill="#000"/>
<rect x="98.65" y="153.15" width="1.3" height="428.00" fill="#000"/>
<rect x="425.35" y="153.15" width="1.3" height="428.00" fill="#000"/>
<rect x="458.35" y="153.15" width="1.3" height="428.00" fill="#000"/>
<rect x="491.85" y="153.15" width="1.3" height="428.00" fill="#000"/>
<rect x="524.85" y="153.15" width="1.3" height="428.00" fill="#000"/>
<rect x="557.35" y="153.15" width="1.3" height="428.00" fill="#000"/>
<rect x="590.85" y="153.15" width="1.3" height="428.00" fill="#000"/>
<rect x="623.35" y="153.15" width="1.3" height="428.00" fill="#000"/>
<rect x="656.35" y="153.15" width="1.3" height="428.00" fill="#000"/>
<rect x="694.65" y="153.15" width="1.3" height="428.00" fill="#000"/>
<rect x="737.35" y="153.15" width="1.3" height="428.00" fill="#000"/>
<rect x="773.35" y="153.15" width="1.3" height="428.00" fill="#000"/>
<text x="398.50" y="613.50" font-size="14" text-anchor="middle" fill="#595959" font-weight="normal" textLength="175.0" lengthAdjust="spacingAndGlyphs" >設問№8～18　回答率一覧</text>
<line x1="61.50" y1="805.00" x2="751.00" y2="805.00" stroke="#D9D9D9" stroke-width="1" />
<text x="53.00" y="808.00" font-size="8.5" text-anchor="end" fill="#333333" font-weight="normal" >0%</text>
<line x1="61.50" y1="788.00" x2="751.00" y2="788.00" stroke="#D9D9D9" stroke-width="1" />
<text x="53.00" y="791.00" font-size="8.5" text-anchor="end" fill="#333333" font-weight="normal" >10%</text>
<line x1="61.50" y1="771.00" x2="751.00" y2="771.00" stroke="#D9D9D9" stroke-width="1" />
<text x="53.00" y="774.00" font-size="8.5" text-anchor="end" fill="#333333" font-weight="normal" >20%</text>
<line x1="61.50" y1="754.00" x2="751.00" y2="754.00" stroke="#D9D9D9" stroke-width="1" />
<text x="53.00" y="757.00" font-size="8.5" text-anchor="end" fill="#333333" font-weight="normal" >30%</text>
<line x1="61.50" y1="737.00" x2="751.00" y2="737.00" stroke="#D9D9D9" stroke-width="1" />
<text x="53.00" y="740.00" font-size="8.5" text-anchor="end" fill="#333333" font-weight="normal" >40%</text>
<line x1="61.50" y1="720.00" x2="751.00" y2="720.00" stroke="#D9D9D9" stroke-width="1" />
<text x="53.00" y="723.00" font-size="8.5" text-anchor="end" fill="#333333" font-weight="normal" >50%</text>
<line x1="61.50" y1="703.00" x2="751.00" y2="703.00" stroke="#D9D9D9" stroke-width="1" />
<text x="53.00" y="706.00" font-size="8.5" text-anchor="end" fill="#333333" font-weight="normal" >60%</text>
<line x1="61.50" y1="686.00" x2="751.00" y2="686.00" stroke="#D9D9D9" stroke-width="1" />
<text x="53.00" y="689.00" font-size="8.5" text-anchor="end" fill="#333333" font-weight="normal" >70%</text>
<line x1="61.50" y1="669.00" x2="751.00" y2="669.00" stroke="#D9D9D9" stroke-width="1" />
<text x="53.00" y="672.00" font-size="8.5" text-anchor="end" fill="#333333" font-weight="normal" >80%</text>
<line x1="61.50" y1="652.00" x2="751.00" y2="652.00" stroke="#D9D9D9" stroke-width="1" />
<text x="53.00" y="655.00" font-size="8.5" text-anchor="end" fill="#333333" font-weight="normal" >90%</text>
<line x1="61.50" y1="635.00" x2="751.00" y2="635.00" stroke="#D9D9D9" stroke-width="1" />
<text x="53.00" y="638.00" font-size="8.5" text-anchor="end" fill="#333333" font-weight="normal" >100%</text>
<text x="761.00" y="808.30" font-size="8.5" text-anchor="start" fill="#333333" font-weight="normal" >1</text>
<text x="761.00" y="751.63" font-size="8.5" text-anchor="start" fill="#333333" font-weight="normal" >2</text>
<text x="761.00" y="694.97" font-size="8.5" text-anchor="start" fill="#333333" font-weight="normal" >3</text>
<text x="761.00" y="638.30" font-size="8.5" text-anchor="start" fill="#333333" font-weight="normal" >4</text>
<defs>
<linearGradient id="gA" x1="0" y1="0" x2="0" y2="1"><stop offset="0" stop-color="#ADBCE4"/><stop offset="1" stop-color="#8AA2DB"/></linearGradient>
<linearGradient id="gB" x1="0" y1="0" x2="0" y2="1"><stop offset="0" stop-color="#F7BFA3"/><stop offset="1" stop-color="#F2A57F"/></linearGradient>
<linearGradient id="gC" x1="0" y1="0" x2="0" y2="1"><stop offset="0" stop-color="#CFCFCF"/><stop offset="1" stop-color="#BDBDBD"/></linearGradient>
</defs>
<rect x="82.94" y="672.78" width="19.80" height="132.22" fill="url(#gA)" stroke="#4472C4" stroke-width="1"/>
<rect x="82.94" y="635.00" width="19.80" height="37.78" fill="url(#gB)" stroke="#ED7D31" stroke-width="1"/>
<text x="92.84" y="821.00" font-size="8.5" text-anchor="middle" fill="#333333" font-weight="normal" >8</text>
<rect x="145.62" y="682.22" width="19.80" height="122.78" fill="url(#gA)" stroke="#4472C4" stroke-width="1"/>
<rect x="145.62" y="635.00" width="19.80" height="47.22" fill="url(#gB)" stroke="#ED7D31" stroke-width="1"/>
<text x="155.52" y="821.00" font-size="8.5" text-anchor="middle" fill="#333333" font-weight="normal" >9</text>
<rect x="208.30" y="682.22" width="19.80" height="122.78" fill="url(#gA)" stroke="#4472C4" stroke-width="1"/>
<rect x="208.30" y="644.44" width="19.80" height="37.78" fill="url(#gB)" stroke="#ED7D31" stroke-width="1"/>
<rect x="208.30" y="635.00" width="19.80" height="9.44" fill="url(#gC)" stroke="#BFBFBF" stroke-width="1"/>
<text x="218.20" y="821.00" font-size="8.5" text-anchor="middle" fill="#333333" font-weight="normal" >10</text>
<rect x="270.99" y="663.33" width="19.80" height="141.67" fill="url(#gA)" stroke="#4472C4" stroke-width="1"/>
<rect x="270.99" y="635.00" width="19.80" height="28.33" fill="url(#gB)" stroke="#ED7D31" stroke-width="1"/>
<text x="280.89" y="821.00" font-size="8.5" text-anchor="middle" fill="#333333" font-weight="normal" >11</text>
<rect x="333.67" y="691.67" width="19.80" height="113.33" fill="url(#gA)" stroke="#4472C4" stroke-width="1"/>
<rect x="333.67" y="644.44" width="19.80" height="47.22" fill="url(#gB)" stroke="#ED7D31" stroke-width="1"/>
<rect x="333.67" y="635.00" width="19.80" height="9.44" fill="url(#gC)" stroke="#BFBFBF" stroke-width="1"/>
<text x="343.57" y="821.00" font-size="8.5" text-anchor="middle" fill="#333333" font-weight="normal" >12</text>
<rect x="396.35" y="691.67" width="19.80" height="113.33" fill="url(#gA)" stroke="#4472C4" stroke-width="1"/>
<rect x="396.35" y="635.00" width="19.80" height="56.67" fill="url(#gB)" stroke="#ED7D31" stroke-width="1"/>
<text x="406.25" y="821.00" font-size="8.5" text-anchor="middle" fill="#333333" font-weight="normal" >13</text>
<rect x="459.03" y="672.78" width="19.80" height="132.22" fill="url(#gA)" stroke="#4472C4" stroke-width="1"/>
<rect x="459.03" y="635.00" width="19.80" height="37.78" fill="url(#gB)" stroke="#ED7D31" stroke-width="1"/>
<text x="468.93" y="821.00" font-size="8.5" text-anchor="middle" fill="#333333" font-weight="normal" >14</text>
<rect x="521.71" y="691.67" width="19.80" height="113.33" fill="url(#gA)" stroke="#4472C4" stroke-width="1"/>
<rect x="521.71" y="635.00" width="19.80" height="56.67" fill="url(#gB)" stroke="#ED7D31" stroke-width="1"/>
<text x="531.61" y="821.00" font-size="8.5" text-anchor="middle" fill="#333333" font-weight="normal" >15</text>
<rect x="584.40" y="672.78" width="19.80" height="132.22" fill="url(#gA)" stroke="#4472C4" stroke-width="1"/>
<rect x="584.40" y="644.44" width="19.80" height="28.33" fill="url(#gB)" stroke="#ED7D31" stroke-width="1"/>
<rect x="584.40" y="635.00" width="19.80" height="9.44" fill="url(#gC)" stroke="#BFBFBF" stroke-width="1"/>
<text x="594.30" y="821.00" font-size="8.5" text-anchor="middle" fill="#333333" font-weight="normal" >16</text>
<rect x="647.08" y="682.22" width="19.80" height="122.78" fill="url(#gA)" stroke="#4472C4" stroke-width="1"/>
<rect x="647.08" y="635.00" width="19.80" height="47.22" fill="url(#gB)" stroke="#ED7D31" stroke-width="1"/>
<text x="656.98" y="821.00" font-size="8.5" text-anchor="middle" fill="#333333" font-weight="normal" >17</text>
<rect x="709.76" y="672.78" width="19.80" height="132.22" fill="url(#gA)" stroke="#4472C4" stroke-width="1"/>
<rect x="709.76" y="635.00" width="19.80" height="37.78" fill="url(#gB)" stroke="#ED7D31" stroke-width="1"/>
<text x="719.66" y="821.00" font-size="8.5" text-anchor="middle" fill="#333333" font-weight="normal" >18</text>
<polyline points="92.84,647.47 155.52,650.87 218.20,653.70 280.89,644.63 343.57,657.10 406.25,653.70 468.93,647.47 531.61,653.70 594.30,650.87 656.98,650.87 719.66,647.47" fill="none" stroke="#70AD47" stroke-width="1.8"/>
<polyline points="92.84,652.57 155.52,660.50 218.20,657.67 280.89,657.67 343.57,663.33 406.25,655.97 468.93,655.97 531.61,665.60 594.30,663.90 656.98,659.37 719.66,660.50" fill="none" stroke="#203864" stroke-width="1.8"/>
<circle cx="92.84" cy="647.47" r="3.1" fill="#A9D18E" stroke="#70AD47" stroke-width="1.2"/>
<circle cx="155.52" cy="650.87" r="3.1" fill="#A9D18E" stroke="#70AD47" stroke-width="1.2"/>
<circle cx="218.20" cy="653.70" r="3.1" fill="#A9D18E" stroke="#70AD47" stroke-width="1.2"/>
<circle cx="280.89" cy="644.63" r="3.1" fill="#A9D18E" stroke="#70AD47" stroke-width="1.2"/>
<circle cx="343.57" cy="657.10" r="3.1" fill="#A9D18E" stroke="#70AD47" stroke-width="1.2"/>
<circle cx="406.25" cy="653.70" r="3.1" fill="#A9D18E" stroke="#70AD47" stroke-width="1.2"/>
<circle cx="468.93" cy="647.47" r="3.1" fill="#A9D18E" stroke="#70AD47" stroke-width="1.2"/>
<circle cx="531.61" cy="653.70" r="3.1" fill="#A9D18E" stroke="#70AD47" stroke-width="1.2"/>
<circle cx="594.30" cy="650.87" r="3.1" fill="#A9D18E" stroke="#70AD47" stroke-width="1.2"/>
<circle cx="656.98" cy="650.87" r="3.1" fill="#A9D18E" stroke="#70AD47" stroke-width="1.2"/>
<circle cx="719.66" cy="647.47" r="3.1" fill="#A9D18E" stroke="#70AD47" stroke-width="1.2"/>
<circle cx="92.84" cy="652.57" r="3.1" fill="#8FA2CF" stroke="#203864" stroke-width="1.4"/>
<circle cx="155.52" cy="660.50" r="3.1" fill="#8FA2CF" stroke="#203864" stroke-width="1.4"/>
<circle cx="218.20" cy="657.67" r="3.1" fill="#8FA2CF" stroke="#203864" stroke-width="1.4"/>
<circle cx="280.89" cy="657.67" r="3.1" fill="#8FA2CF" stroke="#203864" stroke-width="1.4"/>
<circle cx="343.57" cy="663.33" r="3.1" fill="#8FA2CF" stroke="#203864" stroke-width="1.4"/>
<circle cx="406.25" cy="655.97" r="3.1" fill="#8FA2CF" stroke="#203864" stroke-width="1.4"/>
<circle cx="468.93" cy="655.97" r="3.1" fill="#8FA2CF" stroke="#203864" stroke-width="1.4"/>
<circle cx="531.61" cy="665.60" r="3.1" fill="#8FA2CF" stroke="#203864" stroke-width="1.4"/>
<circle cx="594.30" cy="663.90" r="3.1" fill="#8FA2CF" stroke="#203864" stroke-width="1.4"/>
<circle cx="656.98" cy="659.37" r="3.1" fill="#8FA2CF" stroke="#203864" stroke-width="1.4"/>
<circle cx="719.66" cy="660.50" r="3.1" fill="#8FA2CF" stroke="#203864" stroke-width="1.4"/>
<rect x="267.00" y="836.70" width="21.50" height="5.60" fill="#95ABDF" stroke="#4472C4" stroke-width="1"/>
<text x="290.50" y="842.70" font-size="8.5" text-anchor="start" fill="#333333" font-weight="normal" >A</text>
<rect x="305.00" y="836.70" width="21.50" height="5.60" fill="#F4B08E" stroke="#ED7D31" stroke-width="1"/>
<text x="328.50" y="842.70" font-size="8.5" text-anchor="start" fill="#333333" font-weight="normal" >B</text>
<rect x="343.00" y="836.70" width="21.50" height="5.60" fill="#C9C9C9" stroke="#A5A5A5" stroke-width="1"/>
<text x="366.50" y="842.70" font-size="8.5" text-anchor="start" fill="#333333" font-weight="normal" >C</text>
<rect x="380.50" y="836.70" width="21.50" height="5.60" fill="#FFD966" stroke="#FFC000" stroke-width="1"/>
<text x="404.00" y="842.70" font-size="8.5" text-anchor="start" fill="#333333" font-weight="normal" >D</text>
<line x1="419.00" y1="839.50" x2="440.50" y2="839.50" stroke="#70AD47" stroke-width="1.8" />
<circle cx="429.7" cy="839.5" r="3.1" fill="#A9D18E" stroke="#70AD47" stroke-width="1.2"/>
<text x="443.00" y="842.80" font-size="9" text-anchor="start" fill="#333333" font-weight="normal" >平均</text>
<line x1="471.00" y1="839.50" x2="492.50" y2="839.50" stroke="#203864" stroke-width="1.8" />
<circle cx="481.7" cy="839.5" r="3.1" fill="#8FA2CF" stroke="#203864" stroke-width="1.4"/>
<text x="495.00" y="842.80" font-size="9" text-anchor="start" fill="#333333" font-weight="normal" >全体平均</text>
<text x="26.00" y="876.50" font-size="9.5" text-anchor="start" fill="#000" font-weight="normal" stroke="#000" stroke-width="0.15">選択肢一覧</text>
<rect x="24.00" y="879.00" width="751.00" height="14.00" fill="#92214C" />
<text x="44.55" y="890.00" font-size="9.5" text-anchor="middle" fill="#fff" font-weight="normal" textLength="31.0" lengthAdjust="spacingAndGlyphs" >設問No.</text>
<text x="137.05" y="890.00" font-size="9" text-anchor="middle" fill="#fff" font-weight="normal" >A</text>
<text x="281.80" y="890.00" font-size="9" text-anchor="middle" fill="#fff" font-weight="normal" >B</text>
<text x="407.05" y="890.00" font-size="9" text-anchor="middle" fill="#fff" font-weight="normal" >C</text>
<text x="509.55" y="890.00" font-size="9" text-anchor="middle" fill="#fff" font-weight="normal" >D</text>
<text x="608.05" y="890.00" font-size="9" text-anchor="middle" fill="#fff" font-weight="normal" >E</text>
<text x="716.55" y="890.00" font-size="9" text-anchor="middle" fill="#fff" font-weight="normal" >F</text>
<text transform="translate(44.55,903.55) scale(0.9,1)" font-size="9.8" text-anchor="middle" fill="#000">3</text>
<text x="66.00" y="903.25" font-size="8.3" text-anchor="start" fill="#000" font-weight="normal" textLength="130.0" lengthAdjust="spacingAndGlyphs" stroke="#000" stroke-width="0.15">必修または必要な単位を満たすため</text>
<text x="211.50" y="903.25" font-size="8.3" text-anchor="start" fill="#000" font-weight="normal" stroke="#000" stroke-width="0.15">資格や就活に役立てるため</text>
<text x="355.50" y="903.25" font-size="8.3" text-anchor="start" fill="#000" font-weight="normal" textLength="101.0" lengthAdjust="spacingAndGlyphs" stroke="#000" stroke-width="0.15">シラバスを見て関心を持った</text>
<text x="462.00" y="903.25" font-size="8.3" text-anchor="start" fill="#000" font-weight="normal" textLength="92.0" lengthAdjust="spacingAndGlyphs" stroke="#000" stroke-width="0.15">良い授業だと人から聞いた</text>
<text x="560.50" y="903.25" font-size="8.3" text-anchor="start" fill="#000" font-weight="normal" stroke="#000" stroke-width="0.15">その他</text>
<text transform="translate(44.55,918.05) scale(0.9,1)" font-size="9.8" text-anchor="middle" fill="#000">4</text>
<text x="66.00" y="917.75" font-size="8.3" text-anchor="start" fill="#000" font-weight="normal" stroke="#000" stroke-width="0.15">全部出席</text>
<text x="211.50" y="917.75" font-size="8.3" text-anchor="start" fill="#000" font-weight="normal" stroke="#000" stroke-width="0.15">1-2回欠席</text>
<text x="355.50" y="917.75" font-size="8.3" text-anchor="start" fill="#000" font-weight="normal" stroke="#000" stroke-width="0.15">3-4回欠席</text>
<text x="462.00" y="917.75" font-size="8.3" text-anchor="start" fill="#000" font-weight="normal" stroke="#000" stroke-width="0.15">5回以上欠席</text>
<text transform="translate(44.55,932.30) scale(0.9,1)" font-size="9.8" text-anchor="middle" fill="#000">5</text>
<text x="66.00" y="932.00" font-size="8.3" text-anchor="start" fill="#000" font-weight="normal" stroke="#000" stroke-width="0.15">3時間以上</text>
<text x="211.50" y="932.00" font-size="8.3" text-anchor="start" fill="#000" font-weight="normal" stroke="#000" stroke-width="0.15">2時間程度</text>
<text x="355.50" y="932.00" font-size="8.3" text-anchor="start" fill="#000" font-weight="normal" stroke="#000" stroke-width="0.15">1時間程度</text>
<text x="462.00" y="932.00" font-size="8.3" text-anchor="start" fill="#000" font-weight="normal" stroke="#000" stroke-width="0.15">30分程度</text>
<text x="560.50" y="932.00" font-size="8.3" text-anchor="start" fill="#000" font-weight="normal" stroke="#000" stroke-width="0.15">全くしていない</text>
<text transform="translate(44.55,948.55) scale(0.9,1)" font-size="9.8" text-anchor="middle" fill="#000">6</text>
<text transform="translate(44.55,959.55) scale(0.9,1)" font-size="9.8" text-anchor="middle" fill="#000">8-10</text>
<text transform="translate(44.55,970.55) scale(0.9,1)" font-size="9.8" text-anchor="middle" fill="#000">14-18</text>
<text transform="translate(44.55,981.55) scale(0.9,1)" font-size="9.8" text-anchor="middle" fill="#000">22-24</text>
<text transform="translate(44.55,992.55) scale(0.9,1)" font-size="9.8" text-anchor="middle" fill="#000">26-29</text>
<text x="66.00" y="970.25" font-size="8.3" text-anchor="start" fill="#000" font-weight="normal" stroke="#000" stroke-width="0.15">強くそう思う</text>
<text x="211.50" y="970.25" font-size="8.3" text-anchor="start" fill="#000" font-weight="normal" stroke="#000" stroke-width="0.15">まあそう思う</text>
<text x="355.50" y="970.25" font-size="8.3" text-anchor="start" fill="#000" font-weight="normal" stroke="#000" stroke-width="0.15">あまりそう思わない</text>
<text x="462.00" y="970.25" font-size="8.3" text-anchor="start" fill="#000" font-weight="normal" stroke="#000" stroke-width="0.15">全くそう思わない</text>
<text transform="translate(44.55,1016.05) scale(0.9,1)" font-size="9.8" text-anchor="middle" fill="#000">7</text>
<text x="66.00" y="1015.75" font-size="8.3" text-anchor="start" fill="#000" font-weight="normal" stroke="#000" stroke-width="0.15">教員に教わる</text>
<text x="211.50" y="1015.75" font-size="8.3" text-anchor="start" fill="#000" font-weight="normal" stroke="#000" stroke-width="0.15">友人や先輩に教わる</text>
<text x="355.50" y="1010.25" font-size="8.3" text-anchor="start" fill="#000" font-weight="normal" stroke="#000" stroke-width="0.15">本やインターネットで</text>
<text x="355.50" y="1021.25" font-size="8.3" text-anchor="start" fill="#000" font-weight="normal" stroke="#000" stroke-width="0.15">独力で解決する</text>
<text x="462.00" y="1015.75" font-size="8.3" text-anchor="start" fill="#000" font-weight="normal" stroke="#000" stroke-width="0.15">特に対処しなかった</text>
<text x="560.50" y="1015.75" font-size="8.3" text-anchor="start" fill="#000" font-weight="normal" stroke="#000" stroke-width="0.15">その他</text>
<text transform="translate(44.55,1037.30) scale(0.9,1)" font-size="9.8" text-anchor="middle" fill="#000">11</text>
<text x="66.00" y="1037.00" font-size="8.3" text-anchor="start" fill="#000" font-weight="normal" stroke="#000" stroke-width="0.15">強くそう思う</text>
<text x="211.50" y="1037.00" font-size="8.3" text-anchor="start" fill="#000" font-weight="normal" stroke="#000" stroke-width="0.15">まあそう思う</text>
<text x="355.50" y="1037.00" font-size="8.3" text-anchor="start" fill="#000" font-weight="normal" stroke="#000" stroke-width="0.15">あまりそう思わない</text>
<text x="462.00" y="1037.00" font-size="8.3" text-anchor="start" fill="#000" font-weight="normal" stroke="#000" stroke-width="0.15">全くそう思わない</text>
<text x="560.50" y="1037.00" font-size="8.3" text-anchor="start" fill="#000" font-weight="normal" stroke="#000" stroke-width="0.15">該当しない</text>
<text transform="translate(44.55,1051.30) scale(0.9,1)" font-size="9.8" text-anchor="middle" fill="#000">19</text>
<text x="66.00" y="1051.00" font-size="8.3" text-anchor="start" fill="#000" font-weight="normal" stroke="#000" stroke-width="0.15">レポートの書き方</text>
<text x="211.50" y="1051.00" font-size="8.3" text-anchor="start" fill="#000" font-weight="normal" stroke="#000" stroke-width="0.15">討論（質疑応答）</text>
<text x="355.50" y="1051.00" font-size="8.3" text-anchor="start" fill="#000" font-weight="normal" stroke="#000" stroke-width="0.15">口頭発表</text>
<text x="462.00" y="1051.00" font-size="8.3" text-anchor="start" fill="#000" font-weight="normal" stroke="#000" stroke-width="0.15">ディベート</text>
<text x="560.50" y="1051.00" font-size="8.3" text-anchor="start" fill="#000" font-weight="normal" stroke="#000" stroke-width="0.15">ペア/グループ・ワーク</text>
<text x="659.00" y="1051.00" font-size="6.5" text-anchor="start" fill="#000" font-weight="normal" textLength="114.0" lengthAdjust="spacingAndGlyphs" >アクティブ・ラーニングを通じた実践力</text>
<text transform="translate(44.55,1065.50) scale(0.9,1)" font-size="9.8" text-anchor="middle" fill="#000">27</text>
<text x="66.00" y="1065.20" font-size="8.3" text-anchor="start" fill="#000" font-weight="normal" stroke="#000" stroke-width="0.15">多すぎる</text>
<text x="211.50" y="1065.20" font-size="8.3" text-anchor="start" fill="#000" font-weight="normal" stroke="#000" stroke-width="0.15">ちょうどいい</text>
<text x="355.50" y="1065.20" font-size="8.3" text-anchor="start" fill="#000" font-weight="normal" stroke="#000" stroke-width="0.15">少なすぎる</text>
<rect x="23.35" y="892.35" width="752.30" height="1.3" fill="#000"/>
<rect x="23.35" y="906.85" width="752.30" height="1.3" fill="#000"/>
<rect x="23.35" y="921.35" width="752.30" height="1.3" fill="#000"/>
<rect x="23.35" y="935.35" width="752.30" height="1.3" fill="#000"/>
<rect x="23.35" y="997.85" width="752.30" height="1.3" fill="#000"/>
<rect x="23.35" y="1026.35" width="752.30" height="1.3" fill="#000"/>
<rect x="23.35" y="1040.35" width="752.30" height="1.3" fill="#000"/>
<rect x="23.35" y="1054.35" width="752.30" height="1.3" fill="#000"/>
<rect x="23.25" y="878.25" width="752.50" height="1.5" fill="#000"/>
<rect x="23.25" y="1068.65" width="752.50" height="1.5" fill="#000"/>
<rect x="23.35" y="878.35" width="1.3" height="191.70" fill="#000"/>
<rect x="62.85" y="878.35" width="1.3" height="191.70" fill="#000"/>
<rect x="208.35" y="878.35" width="1.3" height="191.70" fill="#000"/>
<rect x="352.35" y="878.35" width="1.3" height="191.70" fill="#000"/>
<rect x="458.85" y="878.35" width="1.3" height="191.70" fill="#000"/>
<rect x="557.35" y="878.35" width="1.3" height="191.70" fill="#000"/>
<rect x="655.85" y="878.35" width="1.3" height="191.70" fill="#000"/>
<rect x="774.35" y="878.35" width="1.3" height="191.70" fill="#000"/>
<text x="772.00" y="1081.60" font-size="15" text-anchor="end" fill="#000" font-weight="bold" textLength="90.0" lengthAdjust="spacingAndGlyphs" stroke="#000" stroke-width="0.5">敬和学園大学</text>
</svg>
</body></html>
